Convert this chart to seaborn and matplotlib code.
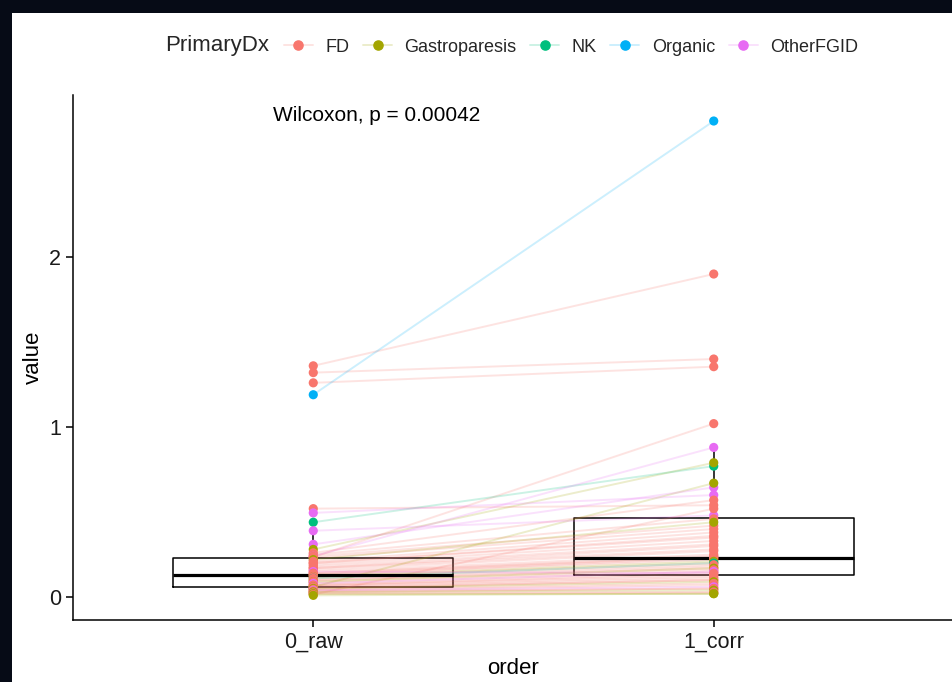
import matplotlib
matplotlib.use('Agg')
import matplotlib.pyplot as plt
import seaborn as sns
import pandas as pd
from matplotlib.lines import Line2D
from matplotlib.patches import Rectangle

sns.set_theme(style='ticks')
plt.rcParams['font.family'] = ['Liberation Sans', 'DejaVu Sans']

# 환자별 값 (raw -> corr)
dx = ['FD', 'FD', 'FD', 'Organic', 'FD', 'OtherFGID', 'NK', 'OtherFGID', 'OtherFGID', 'Gastroparesis',
      'FD', 'FD', 'OtherFGID', 'FD', 'FD', 'FD', 'Gastroparesis', 'FD', 'FD', 'FD',
      'FD', 'FD', 'FD', 'FD', 'FD', 'FD', 'OtherFGID', 'FD', 'FD', 'FD',
      'FD', 'Gastroparesis', 'FD', 'NK', 'FD', 'FD', 'FD', 'Gastroparesis', 'FD', 'FD',
      'OtherFGID', 'FD', 'FD', 'FD', 'Gastroparesis', 'FD', 'FD', 'FD', 'Gastroparesis', 'FD',
      'FD', 'OtherFGID', 'FD', 'FD', 'Gastroparesis', 'FD', 'FD', 'Gastroparesis', 'FD', 'Gastroparesis']
raw = [1.36, 1.32, 1.26, 1.19, 0.52, 0.495, 0.44, 0.39, 0.31, 0.28,
       0.26, 0.25, 0.24, 0.24, 0.235, 0.23, 0.22, 0.21, 0.20, 0.20,
       0.19, 0.18, 0.17, 0.17, 0.16, 0.15, 0.15, 0.14, 0.14, 0.13,
       0.13, 0.12, 0.12, 0.11, 0.11, 0.10, 0.10, 0.09, 0.09, 0.08,
       0.08, 0.07, 0.07, 0.065, 0.06, 0.06, 0.055, 0.05, 0.05, 0.045,
       0.04, 0.04, 0.035, 0.03, 0.03, 0.025, 0.02, 0.02, 0.015, 0.01]
corr = [1.90, 1.40, 1.355, 2.80, 0.54, 0.60, 0.77, 0.48, 0.645, 0.79,
        0.57, 0.46, 0.88, 0.42, 1.02, 0.40, 0.44, 0.38, 0.36, 0.35,
        0.33, 0.31, 0.30, 0.28, 0.27, 0.25, 0.14, 0.24, 0.235, 0.23,
        0.22, 0.21, 0.20, 0.20, 0.19, 0.18, 0.17, 0.17, 0.16, 0.15,
        0.15, 0.14, 0.13, 0.12, 0.67, 0.11, 0.10, 0.10, 0.09, 0.08,
        0.07, 0.06, 0.05, 0.05, 0.04, 0.03, 0.025, 0.02, 0.52, 0.02]

orders = ['0_raw', '1_corr']
dx_levels = ['FD', 'Gastroparesis', 'NK', 'Organic', 'OtherFGID']
dx_colors = ['#F8766D', '#A3A500', '#00BF7D', '#00B0F6', '#E76BF3']
pal = dict(zip(dx_levels, dx_colors))

n = len(raw)
df = pd.DataFrame({
    'id': list(range(n)) * 2,
    'PrimaryDx': dx * 2,
    'order': [orders[0]] * n + [orders[1]] * n,
    'value': raw + corr,
})
df['xpos'] = df['order'].map({orders[0]: 0, orders[1]: 1})

fig = plt.figure(figsize=(9.53, 6.82), dpi=100, facecolor='#060b16')
fig.patches.append(Rectangle((12 / 953, 0), 1, (682 - 13) / 682, transform=fig.transFigure,
                             facecolor='white', edgecolor='none', zorder=-10))
ax = fig.add_axes([73 / 953, 62 / 682, (954 - 73) / 953, (620 - 95) / 682])
ax.set_zorder(1)
ax.set_facecolor('white')

sns.boxplot(data=df, x='order', y='value', order=orders, fill=False, color='black',
            width=0.7, showfliers=False, linewidth=1.1, medianprops={'linewidth': 2.3},
            capprops={'linewidth': 0}, ax=ax)
sns.lineplot(data=df, x='xpos', y='value', hue='PrimaryDx', hue_order=dx_levels, palette=pal,
             units='id', estimator=None, alpha=0.2, linewidth=1.4, legend=False, ax=ax)
sns.stripplot(data=df, x='order', y='value', order=orders, hue='PrimaryDx', hue_order=dx_levels,
              palette=pal, jitter=False, size=6.6, linewidth=0, legend=False, ax=ax, zorder=4)

ax.set_xlim(-0.6, 1.6)
ax.set_ylim(-0.135, 2.953)
ax.set_xticks([0, 1])
ax.set_xticklabels(orders)
ax.set_yticks([0, 1, 2])
ax.set_yticklabels(['0', '1', '2'])
ax.tick_params(labelsize=15.5, length=5, width=1.1, color='black', labelcolor='#1a1a1a')
ax.set_xlabel('order', fontsize=16, color='black')
ax.set_ylabel('value', fontsize=16, color='black')
for side in ['top', 'right']:
    ax.spines[side].set_visible(False)
for side in ['left', 'bottom']:
    ax.spines[side].set_linewidth(1.1)
    ax.spines[side].set_color('black')

ax.text(-0.1, 2.835, 'Wilcoxon, p = 0.00042', fontsize=15, ha='left', va='center', color='black')

# 범례 (상단 가로)
fig.text(165 / 953, 1 - 46 / 682, 'PrimaryDx', fontsize=16, ha='left', va='center')
handles = [Line2D([0], [0], color=(*matplotlib.colors.to_rgb(c), 0.2), linewidth=1.4,
                  marker='o', markersize=6.6, markerfacecolor=c, markeredgecolor=c)
           for c in dx_colors]
fig.legend(handles, dx_levels, loc='center left', bbox_to_anchor=(284 / 953, 1 - 47 / 682),
           ncol=5, frameon=False, fontsize=13, handlelength=1.6, handletextpad=0.7,
           columnspacing=0.75, borderaxespad=0, borderpad=0)

fig.savefig('out.png', dpi=100, facecolor=fig.get_facecolor())
